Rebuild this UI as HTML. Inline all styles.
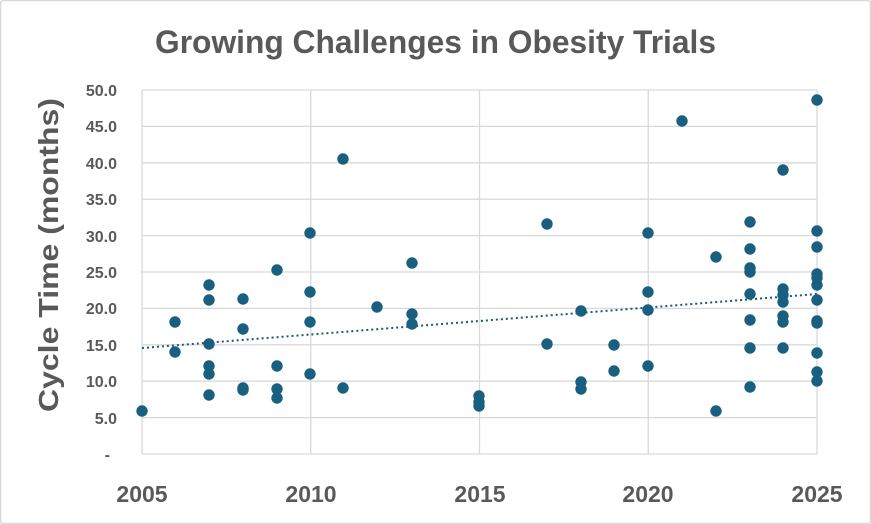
<!DOCTYPE html>
<html><head><meta charset="utf-8"><style>
html,body{margin:0;padding:0;background:#fff;}
svg{display:block;font-family:"Liberation Sans",sans-serif;}
</style></head><body>
<svg width="871" height="524" viewBox="0 0 871 524" xmlns="http://www.w3.org/2000/svg">
<rect x="0.5" y="0.5" width="870" height="523" rx="3" fill="#fff" stroke="#d9d9d9" stroke-width="1.5"/>
<text x="155" y="53" font-size="32" font-weight="bold" fill="#595959" textLength="561" lengthAdjust="spacingAndGlyphs">Growing Challenges in Obesity Trials</text>
<g stroke="#d9d9d9" stroke-width="1.3" fill="none">
<line x1="142" y1="90" x2="817" y2="90"/><line x1="142" y1="126.4" x2="817" y2="126.4"/>
<line x1="142" y1="162.8" x2="817" y2="162.8"/><line x1="142" y1="199.2" x2="817" y2="199.2"/>
<line x1="142" y1="235.6" x2="817" y2="235.6"/><line x1="142" y1="272" x2="817" y2="272"/>
<line x1="142" y1="308.4" x2="817" y2="308.4"/><line x1="142" y1="344.8" x2="817" y2="344.8"/>
<line x1="142" y1="381.2" x2="817" y2="381.2"/><line x1="142" y1="417.6" x2="817" y2="417.6"/>
<line x1="142" y1="454" x2="817" y2="454"/>
<line x1="142" y1="90" x2="142" y2="454"/><line x1="310.75" y1="90" x2="310.75" y2="454"/>
<line x1="479.5" y1="90" x2="479.5" y2="454"/><line x1="648.25" y1="90" x2="648.25" y2="454"/>
<line x1="817" y1="90" x2="817" y2="454"/>
</g>
<g font-size="16" font-weight="bold" fill="#595959" text-anchor="end">
<text x="117" y="96">50.0</text><text x="117" y="132">45.0</text><text x="117" y="169">40.0</text>
<text x="117" y="205">35.0</text><text x="117" y="242">30.0</text><text x="117" y="278">25.0</text>
<text x="117" y="314">20.0</text><text x="117" y="351">15.0</text><text x="117" y="387">10.0</text>
<text x="117" y="424">5.0</text><text x="110" y="460">-</text>
</g>
<g font-size="23" font-weight="bold" fill="#595959" text-anchor="middle">
<text x="142" y="502">2005</text><text x="311" y="502">2010</text><text x="480" y="502">2015</text>
<text x="648" y="502">2020</text><text x="817" y="502">2025</text>
</g>
<text transform="translate(58,412) rotate(-90)" font-size="28" font-weight="bold" fill="#595959" textLength="314" lengthAdjust="spacingAndGlyphs">Cycle Time (months)</text>
<line x1="142" y1="348" x2="817" y2="294" stroke="#1a5a75" stroke-width="2" stroke-dasharray="2,3"/>
<g fill="#185f80">
<circle cx="142" cy="411" r="5.7"/><circle cx="175" cy="322" r="5.7"/><circle cx="175" cy="352" r="5.7"/>
<circle cx="209" cy="285" r="5.7"/><circle cx="209" cy="300" r="5.7"/><circle cx="209" cy="344" r="5.7"/>
<circle cx="209" cy="366" r="5.7"/><circle cx="209" cy="374" r="5.7"/><circle cx="209" cy="395" r="5.7"/>
<circle cx="243" cy="299" r="5.7"/><circle cx="243" cy="329" r="5.7"/><circle cx="243" cy="388" r="5.7"/>
<circle cx="243" cy="390" r="5.7"/><circle cx="277" cy="270" r="5.7"/><circle cx="277" cy="366" r="5.7"/>
<circle cx="277" cy="389" r="5.7"/><circle cx="277" cy="398" r="5.7"/><circle cx="310" cy="233" r="5.7"/>
<circle cx="310" cy="292" r="5.7"/><circle cx="310" cy="322" r="5.7"/><circle cx="310" cy="374" r="5.7"/>
<circle cx="343" cy="159" r="5.7"/><circle cx="343" cy="388" r="5.7"/><circle cx="377" cy="307" r="5.7"/>
<circle cx="412" cy="263" r="5.7"/><circle cx="412" cy="314" r="5.7"/><circle cx="412" cy="324" r="5.7"/>
<circle cx="479" cy="396" r="5.7"/><circle cx="479" cy="402" r="5.7"/><circle cx="479" cy="406" r="5.7"/>
<circle cx="547" cy="224" r="5.7"/><circle cx="547" cy="344" r="5.7"/><circle cx="581" cy="311" r="5.7"/>
<circle cx="581" cy="382" r="5.7"/><circle cx="581" cy="389" r="5.7"/><circle cx="614" cy="345" r="5.7"/>
<circle cx="614" cy="371" r="5.7"/><circle cx="648" cy="233" r="5.7"/><circle cx="648" cy="292" r="5.7"/>
<circle cx="648" cy="310" r="5.7"/><circle cx="648" cy="366" r="5.7"/><circle cx="682" cy="121" r="5.7"/>
<circle cx="716" cy="257" r="5.7"/><circle cx="716" cy="411" r="5.7"/><circle cx="750" cy="222" r="5.7"/>
<circle cx="750" cy="249" r="5.7"/><circle cx="750" cy="268" r="5.7"/><circle cx="750" cy="272" r="5.7"/>
<circle cx="750" cy="294" r="5.7"/><circle cx="750" cy="320" r="5.7"/><circle cx="750" cy="348" r="5.7"/>
<circle cx="750" cy="387" r="5.7"/><circle cx="783" cy="170" r="5.7"/><circle cx="783" cy="289" r="5.7"/>
<circle cx="783" cy="295" r="5.7"/><circle cx="783" cy="302" r="5.7"/>
<circle cx="783" cy="316" r="5.7"/><circle cx="783" cy="322" r="5.7"/><circle cx="783" cy="348" r="5.7"/>
<circle cx="817" cy="100" r="5.7"/><circle cx="817" cy="231" r="5.7"/><circle cx="817" cy="247" r="5.7"/>
<circle cx="817" cy="274" r="5.7"/><circle cx="817" cy="278" r="5.7"/><circle cx="817" cy="285" r="5.7"/>
<circle cx="817" cy="300" r="5.7"/><circle cx="817" cy="321" r="5.7"/><circle cx="817" cy="323" r="5.7"/>
<circle cx="817" cy="353" r="5.7"/><circle cx="817" cy="372" r="5.7"/><circle cx="817" cy="381" r="5.7"/>
</g>
</svg>
</body></html>
